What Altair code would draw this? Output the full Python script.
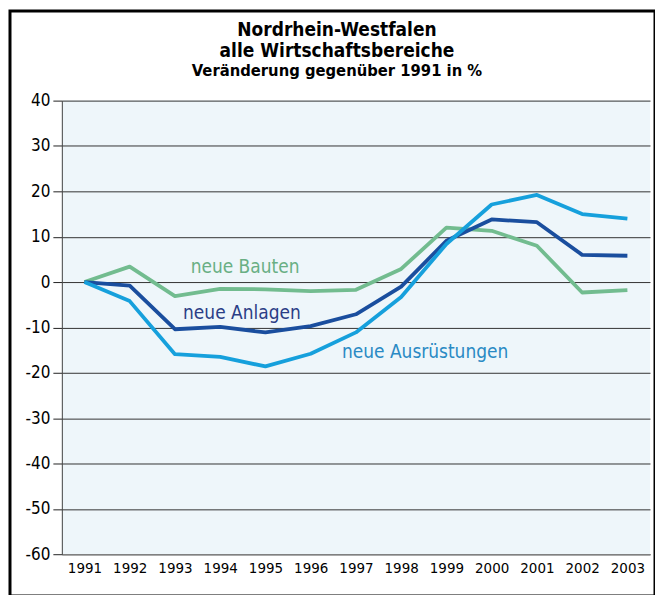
import altair as alt
import pandas as pd

years = list(range(1991, 2004))
bauten = [0, 3.4, -3.1, -1.5, -1.6, -2.0, -1.7, 2.9, 12.0, 11.3, 8.0, -2.3, -1.8]
anlagen = [0, -0.8, -10.4, -9.9, -11.1, -9.7, -7.1, -1.0, 9.1, 13.8, 13.2, 6.0, 5.8]
ausruestungen = [0, -4.2, -15.9, -16.5, -18.6, -15.8, -11.1, -3.3, 8.4, 17.1, 19.2, 15.0, 14.0]

series_names = ["neue Bauten", "neue Anlagen", "neue Ausrüstungen"]
line_colors = ["#72BC8F", "#1A4E9E", "#16A0DC"]
label_colors = ["#69AF84", "#2B3E86", "#2A8AC4"]

rows = []
for name, vals in zip(series_names, [bauten, anlagen, ausruestungen]):
    for y, v in zip(years, vals):
        rows.append({"Jahr": y, "Wert": v, "Reihe": name})
df = pd.DataFrame(rows)

label_df = pd.DataFrame({
    "Reihe": series_names,
    "Jahr": [1994.55, 1994.48, 1998.53],
    "Wert": [3.3, -6.9, -15.4],
})

FONT = "DejaVu Sans Condensed"

x = alt.X("Jahr:Q",
          scale=alt.Scale(domain=[1990.5, 2003.5], nice=False, zero=False),
          axis=alt.Axis(values=years, format="d", title=None, ticks=False,
                        domain=True, domainColor="#808080", domainWidth=1.5,
                        labelFont=FONT, labelFontSize=15, labelColor="#000",
                        labelPadding=6, grid=False))
y = alt.Y("Wert:Q",
          scale=alt.Scale(domain=[-60, 40], nice=False),
          axis=alt.Axis(values=list(range(-60, 41, 10)), title=None,
                        labelExpr="'' + datum.value",
                        ticks=True, tickSize=9, tickColor="#222", tickWidth=1,
                        domain=True, domainColor="#444", domainWidth=1,
                        labelFont=FONT, labelFontSize=17, labelColor="#000",
                        labelPadding=3, grid=True, gridColor="#333",
                        gridWidth=1, gridOpacity=1))

color = alt.Color("Reihe:N", scale=alt.Scale(domain=series_names, range=line_colors),
                  legend=None)

lines = alt.Chart(df).mark_line(strokeWidth=3.8, strokeJoin="round").encode(
    x=x, y=y, color=color, detail="Reihe:N"
)

labels = alt.Chart(label_df).mark_text(font=FONT, fontSize=19, align="center",
                                       baseline="middle").encode(
    x=alt.X("Jahr:Q"), y=alt.Y("Wert:Q"),
    text="Reihe:N",
    color=alt.Color("Reihe:N", scale=alt.Scale(domain=series_names, range=label_colors),
                    legend=None),
)

title_df = pd.DataFrame({
    "t": ["Nordrhein-Westfalen", "alle Wirtschaftsbereiche", "Veränderung gegenüber 1991 in %"],
    "yy": [-64.5, -44, -24.5],
    "fs": [19, 19, 16.5],
})
titles = alt.Chart(title_df).mark_text(font=FONT, fontWeight="bold", align="center",
                                       baseline="alphabetic", color="#000").encode(
    x=alt.value(276), y=alt.Y("yy:Q", scale=None),
    text="t:N", size=alt.Size("fs:Q", scale=None, legend=None),
)

frame = alt.Chart(pd.DataFrame({"a": [0]})).mark_rect(
    fill=None, stroke="#000", strokeWidth=3).encode(
    x=alt.value(-52), x2=alt.value(595), y=alt.value(-90), y2=alt.value(497)
)

chart = alt.layer(lines, labels, titles, frame).resolve_scale(color="independent").properties(
    width=590, height=455,
    autosize=alt.AutoSizeParams(type="none"),
    padding={"left": 54, "top": 92, "right": 5, "bottom": 40},
    background="#ffffff",
).configure_view(fill="#EEF6FA", stroke=None)

chart.save("out.html", embed_options={"renderer": "svg", "actions": False})
